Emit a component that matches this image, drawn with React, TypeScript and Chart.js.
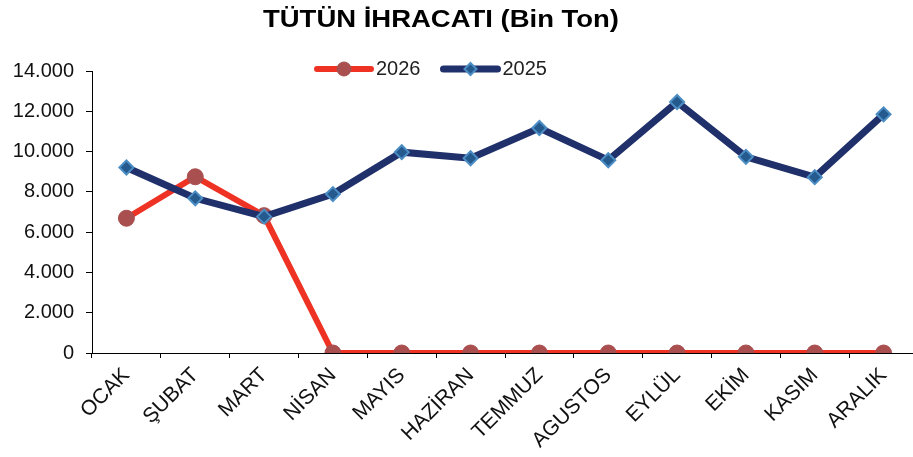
import React, { useEffect, useRef } from "react";
import { Chart, registerables } from "chart.js";

Chart.register(...registerables);

const TITLE = "TÜTÜN İHRACATI (Bin Ton)";
const MONTHS = ["OCAK", "ŞUBAT", "MART", "NİSAN", "MAYIS", "HAZİRAN", "TEMMUZ", "AGUSTOS", "EYLÜL", "EKİM", "KASIM", "ARALIK"];
const SERIES_2026 = [6690, 8750, 6820, 0, 0, 0, 0, 0, 0, 0, 0, 0];
const SERIES_2025 = [9210, 7680, 6770, 7890, 9970, 9670, 11170, 9570, 12460, 9740, 8730, 11850];
const Y_MIN = 0;
const Y_MAX = 14000;
const Y_STEP = 2000;

const FONT = "'Liberation Sans', Arial, sans-serif";

const fmt = (v: number) => String(Math.round(v)).replace(/\B(?=(\d{3})+(?!\d))/g, ".");

const decorPlugin = {
  id: "decor",
  afterDraw(chart: any) {
    const ctx = chart.ctx;
    ctx.save();
    // title
    ctx.font = `bold 24px ${FONT}`;
    ctx.fillStyle = "#000";
    ctx.textAlign = "center";
    ctx.textBaseline = "middle";
    const tw = ctx.measureText(TITLE).width;
    const sx = 356 / tw;
    ctx.save();
    ctx.translate(441, 20);
    ctx.scale(sx, 1);
    ctx.fillText(TITLE, 0, 0);
    ctx.restore();
    // legend
    const order = [0, 1];
    let x = 315;
    const y = 69;
    ctx.font = `20px ${FONT}`;
    for (const i of order) {
      const ds = chart.data.datasets[i];
      ctx.strokeStyle = ds.borderColor;
      ctx.lineWidth = ds.borderWidth;
      ctx.lineCap = "round";
      ctx.beginPath();
      ctx.moveTo(x + 2, y);
      ctx.lineTo(x + 56, y);
      ctx.stroke();
      const mx = x + 29;
      ctx.fillStyle = ds.pointBackgroundColor;
      ctx.strokeStyle = ds.pointBorderColor;
      ctx.lineWidth = ds.pointBorderWidth;
      ctx.beginPath();
      if (ds.pointStyle === "circle") {
        ctx.arc(mx, y, 7, 0, Math.PI * 2);
      } else {
        const r = 6;
        ctx.moveTo(mx, y - r);
        ctx.lineTo(mx + r, y);
        ctx.lineTo(mx, y + r);
        ctx.lineTo(mx - r, y);
        ctx.closePath();
      }
      ctx.fill();
      ctx.stroke();
      ctx.fillStyle = "#222";
      ctx.textAlign = "left";
      ctx.textBaseline = "middle";
      ctx.fillText(ds.label, x + 61, y);
      x += 61 + ctx.measureText(ds.label).width + 21;
    }
    ctx.restore();
  },
};

export default function App() {
  const ref = useRef<HTMLCanvasElement | null>(null);
  useEffect(() => {
    document.body.style.margin = "0";
    document.documentElement.style.overflow = "hidden";
    document.body.style.overflow = "hidden";
    const chart = new Chart(ref.current as HTMLCanvasElement, {
      type: "line",
      data: {
        labels: MONTHS,
        datasets: [
          {
            label: "2026",
            data: SERIES_2026,
            borderColor: "#EE3224",
            borderWidth: 6,
            pointStyle: "circle",
            pointRadius: 8,
            pointHoverRadius: 8,
            pointBackgroundColor: "#A94F50",
            pointBorderColor: "#A94F50",
            pointBorderWidth: 1,
            order: 1,
          },
          {
            label: "2025",
            data: SERIES_2025,
            borderColor: "#20306B",
            borderWidth: 7,
            pointStyle: "rectRot",
            pointRadius: 7,
            pointHoverRadius: 7,
            pointBackgroundColor: "#245A8E",
            pointBorderColor: "#4C8DC4",
            pointBorderWidth: 2,
            order: 0,
          },
        ],
      },
      options: {
        animation: false,
        responsive: false,
        maintainAspectRatio: false,
        layout: { padding: { top: 71, right: 12, left: 0, bottom: 0 } },
        plugins: { legend: { display: false }, title: { display: false }, tooltip: { enabled: false } },
        scales: {
          x: {
            offset: true,
            grid: { offset: true, drawOnChartArea: false, drawTicks: true, tickLength: 5, color: "#000" },
            border: { display: true, color: "#000", width: 1 },
            ticks: {
              maxRotation: 45,
              minRotation: 45,
              autoSkip: false,
              padding: 5,
              color: "#111",
              font: { family: FONT, size: 21 },
            },
            afterFit: (s: any) => {
              s.height = 104;
            },
          },
          y: {
            min: Y_MIN,
            max: Y_MAX,
            grid: { drawOnChartArea: false, drawTicks: true, tickLength: 6, color: "#000" },
            border: { display: true, color: "#000", width: 1 },
            ticks: {
              stepSize: Y_STEP,
              padding: 12,
              color: "#111",
              font: { family: FONT, size: 20 },
              callback: (v: any) => fmt(Number(v)),
            },
            afterFit: (s: any) => {
              s.width = 92;
            },
          },
        },
      },
      plugins: [decorPlugin],
    });
    return () => chart.destroy();
  }, []);
  return (
    <div style={{ width: 930, height: 457, overflow: "hidden" }}>
      <canvas ref={ref} width={930} height={457} style={{ display: "block" }} />
    </div>
  );
}
